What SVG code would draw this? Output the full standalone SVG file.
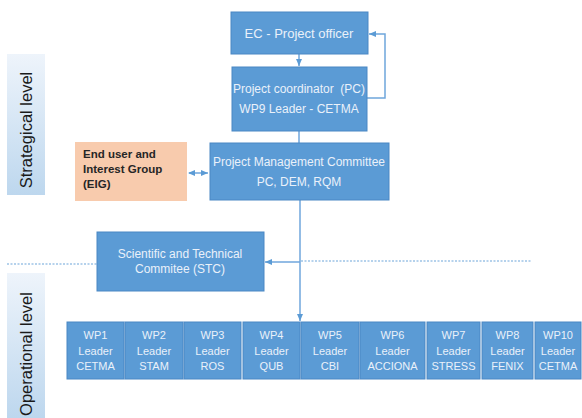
<svg xmlns="http://www.w3.org/2000/svg" width="582" height="418" viewBox="0 0 582 418">
<style>
.box{fill:#5B9BD5;stroke:#4A87C4;stroke-width:1}
.wp{fill:#5B9BD5;stroke:#4A87C4;stroke-width:1}
.t{font-family:"Liberation Sans",Arial,sans-serif;fill:#EAF1FA;text-anchor:middle}
.tw{font-family:"Liberation Sans",Arial,sans-serif;fill:#EAF1FA;text-anchor:middle;font-size:11px}
.ln{stroke:#6FA6DC;stroke-width:1.5;fill:none}
.dash{stroke:#9DC3E6;stroke-width:1.5;stroke-dasharray:2 1.5;fill:none}
.side{font-family:"Liberation Sans",Arial,sans-serif;fill:#1a1a1a;font-size:16.5px;text-anchor:middle}
</style>
<defs>
<linearGradient id="g" x1="0" y1="0" x2="0" y2="1">
<stop offset="0" stop-color="#EEF4FB"/>
<stop offset="1" stop-color="#BDD7EE"/>
</linearGradient>
<marker id="ah" markerWidth="8" markerHeight="8" refX="7" refY="4" orient="auto" markerUnits="userSpaceOnUse">
<path d="M0,1 L7,4 L0,7 Z" fill="#5B9BD5"/>
</marker>
<marker id="ahs" markerWidth="8" markerHeight="8" refX="1" refY="4" orient="auto" markerUnits="userSpaceOnUse">
<path d="M7,1 L0,4 L7,7 Z" fill="#5B9BD5"/>
</marker>
</defs>

<g id="strategical-label">
<rect x="7" y="54" width="38" height="141" fill="url(#g)"/>
<text class="side" transform="translate(32,130) rotate(-90)">Strategical level</text>
</g>
<g id="operational-label">
<rect x="7" y="273" width="38" height="145" fill="url(#g)"/>
<text class="side" transform="translate(32,354) rotate(-90)">Operational level</text>
</g>

<g id="connectors">
<line class="ln" x1="299" y1="54" x2="299" y2="66" marker-end="url(#ah)"/>
<polyline class="ln" points="367,98 385,98 385,34 369,34" marker-end="url(#ah)"/>
<line class="ln" x1="299" y1="131" x2="299" y2="143"/>
<line class="ln" x1="189" y1="173" x2="208" y2="173" marker-start="url(#ahs)" marker-end="url(#ah)"/>
<line class="ln" x1="300" y1="200" x2="300" y2="321" marker-end="url(#ah)"/>
<line class="ln" x1="300" y1="262" x2="265" y2="262" marker-end="url(#ah)"/>
<line class="dash" x1="301" y1="261" x2="532" y2="261"/>
<line class="dash" x1="7" y1="264" x2="97" y2="264"/>
</g>

<g id="ec">
<rect class="box" x="231" y="12" width="137" height="42"/>
<text class="t" x="299" y="38" font-size="13">EC - Project officer</text>
</g>
<g id="pc">
<rect class="box" x="232" y="67" width="135" height="64"/>
<text class="t" x="299" y="93" font-size="12">Project coordinator &#160;(PC)</text>
<text class="t" x="299" y="113" font-size="12">WP9 Leader - CETMA</text>
</g>
<g id="eig">
<rect x="75" y="142" width="112" height="59" fill="#F8CBAD"/>
<text font-family="Liberation Sans,Arial,sans-serif" font-size="11.5" font-weight="bold" fill="#262626" x="83" y="158">End user and</text>
<text font-family="Liberation Sans,Arial,sans-serif" font-size="11.5" font-weight="bold" fill="#262626" x="83" y="173">Interest Group</text>
<text font-family="Liberation Sans,Arial,sans-serif" font-size="11.5" font-weight="bold" fill="#262626" x="83" y="188">(EIG)</text>
</g>
<g id="pmc">
<rect class="box" x="210" y="143" width="179" height="57"/>
<text class="t" x="299" y="166" font-size="12">Project Management Committee</text>
<text class="t" x="299" y="186" font-size="12">PC, DEM, RQM</text>
</g>
<g id="stc">
<rect class="box" x="97" y="232" width="167" height="59"/>
<text class="t" x="180" y="258" font-size="12">Scientific and Technical</text>
<text class="t" x="180" y="273" font-size="12">Commitee (STC)</text>
</g>

<g id="wp1"><rect class="wp" x="67" y="322" width="57" height="57"/><text class="tw" x="95.5" y="339">WP1</text><text class="tw" x="95.5" y="355">Leader</text><text class="tw" x="95.5" y="370">CETMA</text></g>
<g id="wp2"><rect class="wp" x="125" y="322" width="58" height="57"/><text class="tw" x="154" y="339">WP2</text><text class="tw" x="154" y="355">Leader</text><text class="tw" x="154" y="370">STAM</text></g>
<g id="wp3"><rect class="wp" x="184" y="322" width="57" height="57"/><text class="tw" x="212.5" y="339">WP3</text><text class="tw" x="212.5" y="355">Leader</text><text class="tw" x="212.5" y="370">ROS</text></g>
<g id="wp4"><rect class="wp" x="243" y="322" width="57" height="57"/><text class="tw" x="271.5" y="339">WP4</text><text class="tw" x="271.5" y="355">Leader</text><text class="tw" x="271.5" y="370">QUB</text></g>
<g id="wp5"><rect class="wp" x="301" y="322" width="58" height="57"/><text class="tw" x="330" y="339">WP5</text><text class="tw" x="330" y="355">Leader</text><text class="tw" x="330" y="370">CBI</text></g>
<g id="wp6"><rect class="wp" x="360" y="322" width="65" height="57"/><text class="tw" x="392.5" y="339">WP6</text><text class="tw" x="392.5" y="355">Leader</text><text class="tw" x="392.5" y="370">ACCIONA</text></g>
<g id="wp7"><rect class="wp" x="427" y="322" width="53" height="57"/><text class="tw" x="453.5" y="339">WP7</text><text class="tw" x="453.5" y="355">Leader</text><text class="tw" x="453.5" y="370">STRESS</text></g>
<g id="wp8"><rect class="wp" x="482" y="322" width="51" height="57"/><text class="tw" x="507.5" y="339">WP8</text><text class="tw" x="507.5" y="355">Leader</text><text class="tw" x="507.5" y="370">FENIX</text></g>
<g id="wp10"><rect class="wp" x="535" y="322" width="46" height="57"/><text class="tw" x="558" y="339">WP10</text><text class="tw" x="558" y="355">Leader</text><text class="tw" x="558" y="370">CETMA</text></g>
</svg>
